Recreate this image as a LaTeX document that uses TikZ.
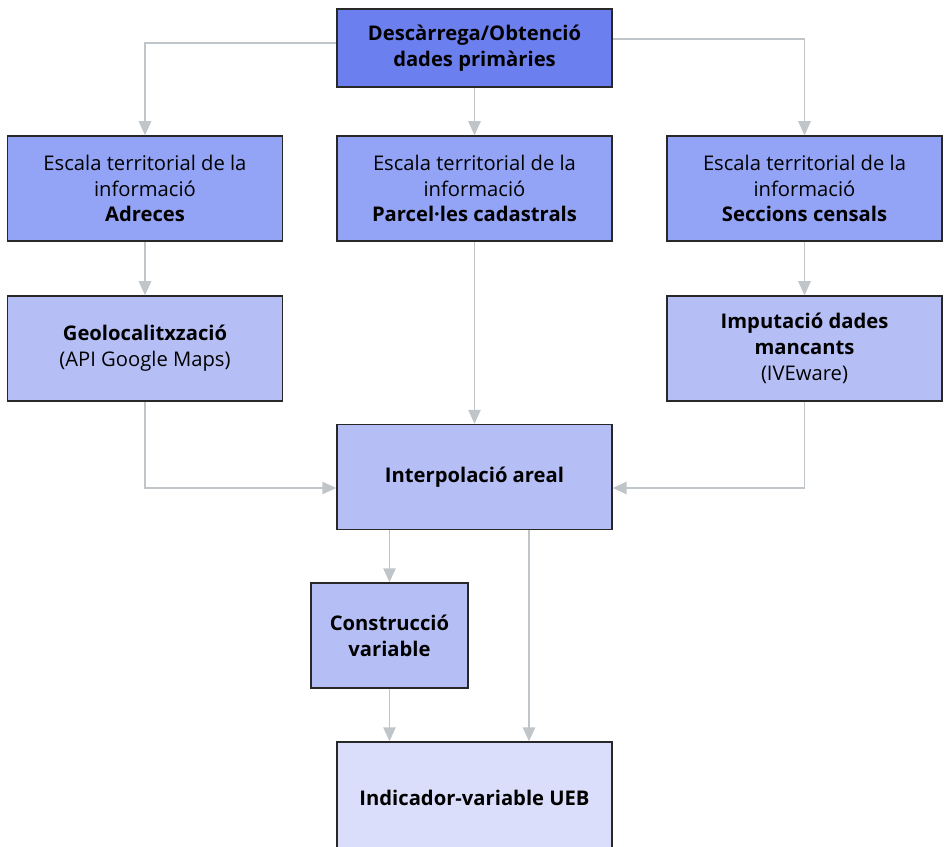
\documentclass[tikz,border=0pt]{standalone}
\usepackage{fontspec}
\setmainfont{Open Sans}[BoldFont={* Bold}]
\usetikzlibrary{arrows.meta,calc}
\definecolor{blauFort}{RGB}{108,127,239}
\definecolor{blauMig}{RGB}{147,163,245}
\definecolor{blauClar}{RGB}{182,191,245}
\definecolor{blauPal}{RGB}{218,222,250}
\definecolor{grisFletxa}{RGB}{192,197,201}
\definecolor{vora}{RGB}{40,40,40}

\begin{document}
\begin{tikzpicture}[x=0.02cm,y=-0.02cm,
		caixa/.style={draw=vora, line width=0.8pt, align=center, inner sep=2pt,
			minimum width=5.5cm, minimum height=2.1cm, font=\fontsize{11.5}{14.7}\selectfont},
		fletxa/.style={draw=grisFletxa, line width=1.1pt,
			-{Triangle[width=7pt,length=8pt]}}]
			%%%%% START %%%%%
			
			\useasboundingbox (0,0) rectangle (946,847);
			\clip (0,0) rectangle (946,847);
			
			\node[caixa, fill=blauFort, minimum height=1.56cm] (descarrega) at (474.5, 48) {\textbf{Descàrrega/Obtenció}\\\textbf{dades primàries}};
			
			\node[caixa, fill=blauMig] (adreces) at (145, 188.5) {Escala territorial de la\\informació\\\textbf{Adreces}};
			\node[caixa, fill=blauMig] (parceles) at (474.5, 188.5) {Escala territorial de la\\informació\\\textbf{Parcel·les cadastrals}};
			\node[caixa, fill=blauMig] (seccions) at (804.5, 188.5) {Escala territorial de la\\informació\\\textbf{Seccions censals}};
			
			\node[caixa, fill=blauClar] (geoloc) at (145, 348.5) {\textbf{Geolocalitxzació}\\(API Google Maps)};
			\node[caixa, fill=blauClar] (imputacio) at (804.5, 348.5) {\textbf{Imputació dades}\\\textbf{mancants}\\(IVEware)};
			
			\node[caixa, fill=blauClar] (interpolacio) at (474.5, 477) {\textbf{Interpolació areal}};
			
			\node[caixa, fill=blauClar, minimum width=3.14cm] (construccio) at (389.5, 635.5) {\textbf{Construcció}\\\textbf{variable}};
			
			\node[caixa, fill=blauPal, minimum height=2.24cm] (indicador) at (474.5, 798) {\textbf{Indicador-variable UEB}};
			
			% connectors
			\draw[fletxa] ([yshift=0.1cm]descarrega.west) -| (adreces.north);
			\draw[fletxa] (descarrega.south) -- (parceles.north);
			\draw[fletxa] ([yshift=0.18cm]descarrega.east) -| (seccions.north);
			
			\draw[fletxa] (adreces.south) -- (geoloc.north);
			\draw[fletxa] (parceles.south) -- (interpolacio.north);
			\draw[fletxa] (seccions.south) -- (imputacio.north);
			
			\draw[fletxa] (geoloc.south) |- ([yshift=-0.22cm]interpolacio.west);
			\draw[fletxa] (imputacio.south) |- ([yshift=-0.22cm]interpolacio.east);
			
			\draw[fletxa] (interpolacio.south -| construccio.north) -- (construccio.north);
			\draw[fletxa] ([xshift=1.09cm]interpolacio.south) -- ([xshift=1.09cm]indicador.north);
			\draw[fletxa] (construccio.south) -- (construccio.south |- indicador.north);
			
			%%%%% END %%%%%
		\end{tikzpicture}
\end{document}
